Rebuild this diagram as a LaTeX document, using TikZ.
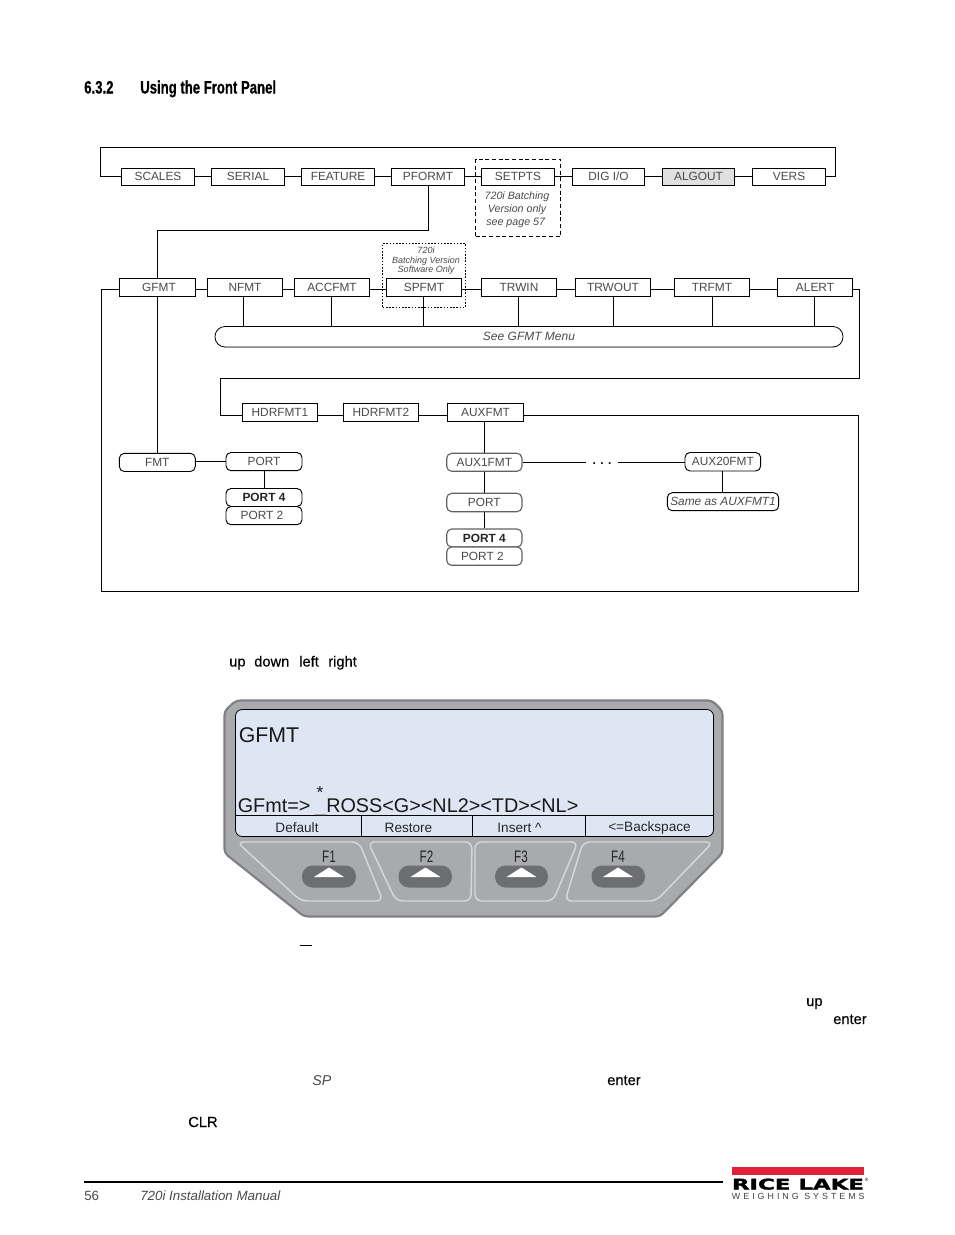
\documentclass[tikz,border=0pt]{standalone}
\usepackage{fontspec}
\usepackage{graphicx}
\setmainfont{Liberation Sans}
\newfontfamily\headfont[FakeStretch=0.73,FakeBold=0.6]{Liberation Sans}
\newfontfamily\keyfont[FakeStretch=0.7]{Liberation Sans}
\newfontfamily\logofont[FakeBold=1.5]{DejaVu Sans}
\newfontfamily\logosub[LetterSpace=34]{Liberation Sans}
\newfontfamily\bodyfont[FakeBold=0.35]{Liberation Sans}
\definecolor{lbl}{HTML}{4A4A4A}
\definecolor{bezel}{HTML}{A8AAAD}
\definecolor{bezeledge}{HTML}{7E8083}
\definecolor{keyline}{HTML}{D6D7D8}
\definecolor{lcd}{HTML}{DFE6F3}
\definecolor{pilldark}{HTML}{6D6E71}
\definecolor{riceRed}{HTML}{E2203A}
\newcommand{\rz}[1]{\raisebox{0.8pt}{#1}}
\newcommand{\bx}[7]{%
  \pgfmathsetmacro\bxcx{(#2+#4)/2}%
  \pgfmathsetmacro\bxcy{(#3+#5)/2}%
  \pgfmathsetmacro\bxw{(#4-#2)*0.75}%
  \pgfmathsetmacro\bxh{(#5-#3)*0.75}%
  \node[#6,minimum width=\bxw pt,minimum height=\bxh pt] (#1) at (\bxcx,\bxcy) {#7};}
\tikzset{
  conn/.style={draw=black,line width=0.7pt},
  sq/.style={draw=black,line width=0.7pt,fill=white,inner sep=0pt,text=lbl,font=\fontsize{8.9}{10}\selectfont},
  rnd/.style={sq,rounded corners=3.75pt},
  rndg/.style={rnd,draw=black!62,line width=0.85pt},
  note/.style={text=lbl,align=center,inner sep=0pt,font=\fontsize{8}{9.75}\selectfont\itshape},
  tinynote/.style={text=lbl,align=center,inner sep=0pt,font=\fontsize{6.75}{7.1}\selectfont\itshape},
  body/.style={anchor=base west,inner sep=0pt,text=black,font=\bodyfont\fontsize{11}{12}\selectfont},
  softkey/.style={inner sep=0pt,text=black!85,font=\fontsize{10.2}{12}\selectfont},
  fkey/.style={inner sep=0pt,text=black!85,font=\keyfont\fontsize{12.5}{13}\selectfont},
  keyoutline/.style={draw=keyline,line width=1.1pt,rounded corners=5pt},
  keypill/.style={fill=pilldark,rounded corners=7.9pt},
  tri/.style={fill=white},
}
\begin{document}
\begin{tikzpicture}[x=0.75pt,y=-0.75pt]
\path[fill=white] (0,0) rectangle (954,1235);
\useasboundingbox (0,0) rectangle (954,1235);

% heading
\node[anchor=base west,inner sep=0pt,font=\headfont\bfseries\fontsize{13.5}{15}\selectfont] (hnum) at (84,93.5) {6.3.2};
\node[anchor=base west,inner sep=0pt,font=\headfont\bfseries\fontsize{13.5}{15}\selectfont] (htitle) at (140,93.5) {Using the Front Panel};

% guide coordinates
\coordinate (loopL) at (100,147.3);
\coordinate (loopR) at (835.3,147.3);
\coordinate (row1) at (0,176.3);
\coordinate (pfbend) at (428.7,230.3);
\coordinate (row2) at (0,289.7);
\coordinate (frameBL) at (101.7,591.3);
\coordinate (frameBR) at (858.5,591.3);
\coordinate (loop2R) at (859.3,378.3);
\coordinate (loop2L) at (220.3,378.3);
\coordinate (hdrrow) at (0,415.3);
\coordinate (auxrow) at (0,462.7);

% dashed groups
\bx{setbox}{475.7}{159.3}{560.7}{236.3}{draw=black,line width=0.7pt,dashed,dash pattern=on 3pt off 2pt,inner sep=0pt}{}
\bx{spbox}{382.7}{243.3}{465.3}{307.3}{draw=black,line width=0.7pt,dash pattern=on 1.2pt off 1.2pt,inner sep=0pt}{}

% top row
\bx{scales}{121.3}{168.3}{194.7}{185.7}{sq}{\rz{SCALES}}
\bx{serial}{211.3}{168.3}{284.7}{185.7}{sq}{\rz{SERIAL}}
\bx{feature}{301.3}{168.3}{374.7}{185.7}{sq}{\rz{FEATURE}}
\bx{pformt}{391.3}{168.3}{464.7}{185.7}{sq}{\rz{PFORMT}}
\bx{setpts}{481.3}{168.3}{554.7}{185.7}{sq}{\rz{SETPTS}}
\bx{digio}{572.3}{168.3}{644.7}{185.7}{sq}{\rz{DIG I/O}}
\bx{algout}{662.3}{168.3}{734.7}{185.7}{sq,fill=black!12}{\rz{ALGOUT}}
\bx{vers}{752.3}{168.3}{825.7}{185.7}{sq}{\rz{VERS}}
\node[note] (setnote) at (517,210) {720i Batching\\Version only\\see page 57\kern2pt};
\node[tinynote] (spnote) at (426,261) {720i\\Batching Version\\Software Only};

% second row
\bx{gfmt}{119.3}{278.3}{195.3}{296.5}{sq}{\kern2.5pt GFMT}
\bx{nfmt}{207.3}{278.3}{282.7}{296.5}{sq}{NFMT}
\bx{accfmt}{294.3}{278.3}{369.7}{296.5}{sq}{ACCFMT}
\bx{spfmt}{386.3}{278.3}{461.7}{296.5}{sq}{SPFMT}
\bx{trwin}{481.3}{278.3}{556.7}{296.5}{sq}{TRWIN}
\bx{trwout}{575.3}{278.3}{650.7}{296.5}{sq}{TRWOUT}
\bx{trfmt}{674.3}{278.3}{749.7}{296.5}{sq}{TRFMT}
\bx{alert}{777.3}{278.3}{852.7}{296.5}{sq}{ALERT}

% see menu
\bx{seemenu}{215}{326.5}{843}{347}{draw=black,line width=0.6pt,rounded corners=7.5pt,inner sep=0pt,text=lbl,font=\fontsize{9}{10}\selectfont\itshape}{See GFMT Menu}
\draw[draw=black!45,line width=0.9pt] ([xshift=7pt]seemenu.south west) -- ([xshift=-7pt]seemenu.south east);

% third row
\bx{hdrone}{242.3}{403}{317.7}{421.7}{sq}{HDRFMT1}
\bx{hdrtwo}{343.3}{403}{418.7}{421.7}{sq}{HDRFMT2}
\bx{auxfmt}{447.3}{403}{523.7}{421.7}{sq}{AUXFMT}

% lower left
\bx{fmt}{119.3}{453.3}{195.3}{471.5}{rnd}{FMT}
\bx{portA}{226}{452.5}{302}{470.7}{rnd}{PORT}
\bx{portAf}{226}{488.5}{302}{506.5}{rnd,text=black!85,font=\bfseries\fontsize{8.9}{10}\selectfont}{PORT 4}
\bx{portAt}{226}{506.5}{302}{524.7}{rnd}{\kern-3pt PORT 2}

% lower middle
\bx{auxone}{446.7}{453.3}{522}{471.3}{rndg}{AUX1FMT}
\bx{portB}{446.7}{493.3}{522}{511.7}{rndg}{PORT}
\bx{portBf}{446.7}{529}{522}{547}{rndg,text=black!85,font=\bfseries\fontsize{8.9}{10}\selectfont}{PORT 4}
\bx{portBt}{446.7}{547}{522}{565.3}{rndg}{\kern-3pt PORT 2}

% lower right
\bx{auxtwenty}{685}{452.5}{760.7}{471}{rnd}{AUX20FMT}
\bx{sameas}{667.3}{492.7}{778.7}{510.7}{rnd,font=\fontsize{8.9}{10}\selectfont\itshape}{\raisebox{-0.7pt}{Same as AUXFMT1}}
\bx{dots}{586.7}{458}{617.3}{470}{inner sep=0pt,text=black,font=\bfseries\fontsize{9}{10}\selectfont}{. . .}

% connectors: top row
\draw[conn] (scales.west |- row1) -| (loopL) -| (loopR) |- (vers.east |- row1);
\draw[conn] (scales.east |- row1) -- (serial.west |- row1);
\draw[conn] (serial.east |- row1) -- (feature.west |- row1);
\draw[conn] (feature.east |- row1) -- (pformt.west |- row1);
\draw[conn] (pformt.east |- row1) -- (setpts.west |- row1);
\draw[conn] (setpts.east |- row1) -- (digio.west |- row1);
\draw[conn] (digio.east |- row1) -- (algout.west |- row1);
\draw[conn] (algout.east |- row1) -- (vers.west |- row1);
\draw[conn] (pformt.south -| pfbend) -- (pfbend) -| (gfmt.north);

% connectors: second row
\draw[conn] (gfmt.east |- row2) -- (nfmt.west |- row2);
\draw[conn] (nfmt.east |- row2) -- (accfmt.west |- row2);
\draw[conn] (accfmt.east |- row2) -- (spfmt.west |- row2);
\draw[conn] (spfmt.east |- row2) -- (trwin.west |- row2);
\draw[conn] (trwin.east |- row2) -- (trwout.west |- row2);
\draw[conn] (trwout.east |- row2) -- (trfmt.west |- row2);
\draw[conn] (trfmt.east |- row2) -- (alert.west |- row2);
\draw[conn] ([xshift=-1.2pt]nfmt.south) -- ([xshift=-1.2pt]nfmt.south |- seemenu.north);
\draw[conn] ([xshift=-0.5pt]accfmt.south) -- ([xshift=-0.5pt]accfmt.south |- seemenu.north);
\draw[conn] ([xshift=-0.5pt]spfmt.south) -- ([xshift=-0.5pt]spfmt.south |- seemenu.north);
\draw[conn] ([xshift=-0.5pt]trwin.south) -- ([xshift=-0.5pt]trwin.south |- seemenu.north);
\draw[conn] (trwout.south) -- (trwout.south |- seemenu.north);
\draw[conn] (trfmt.south) -- (trfmt.south |- seemenu.north);
\draw[conn] ([xshift=-0.5pt]alert.south) -- ([xshift=-0.5pt]alert.south |- seemenu.north);

% connectors: frames
\draw[conn] (gfmt.west |- row2) -| (frameBL) -| (frameBR) |- (auxfmt.east |- hdrrow);
\draw[conn] (alert.east |- row2) -| (loop2R) -| (loop2L) |- (hdrone.west |- hdrrow);
\draw[conn] (hdrone.east |- hdrrow) -- (hdrtwo.west |- hdrrow);
\draw[conn] (hdrtwo.east |- hdrrow) -- (auxfmt.west |- hdrrow);

% connectors: lower
\draw[conn] (gfmt.south) -- (fmt.north);
\draw[conn] (fmt.east |- portA.west) -- (portA.west);
\draw[conn] (portA.south) -- (portAf.north);
\draw[conn] (auxone.north |- auxfmt.south) -- (auxone.north);
\draw[conn] (auxone.south) -- (portB.north);
\draw[conn] (portB.south) -- (portBf.north);
\draw[conn] (auxone.east |- auxrow) -- (dots.west |- auxrow);
\draw[conn] (dots.east |- auxrow) -- (auxtwenty.west |- auxrow);
\draw[conn] (auxtwenty.south) -- (auxtwenty.south |- sameas.north);

% body fragments
\node[body] (w1) at (229,666.5) {up};
\node[body] (w2) at (254,666.5) {down};
\node[body] (w3) at (299,666.5) {left};
\node[body] (w4) at (328,666.5) {right};

% bezel
\path[fill=bezel,draw=bezeledge,line width=1.6pt,rounded corners=3pt]
  (236,700.5) -- (712,700.5) -- (722.5,711) -- (722.5,853) -- (660,916.5) -- (304,916.5) -- (224.5,853) -- (224.5,711) -- cycle;
\path[fill=lcd,draw=black,line width=0.6pt,rounded corners=5pt]
  (235.5,709.5) rectangle (713.5,836.5);
\draw[black,line width=0.6pt] (235.5,815) -- (713.5,815);
\draw[black,line width=0.6pt] (361,815) -- (361,836.5);
\draw[black,line width=0.6pt] (472.5,815) -- (472.5,836.5);
\draw[black,line width=0.6pt] (585,815) -- (585,836.5);

% LCD text
\node[anchor=base west,inner sep=0pt,text=black!90,font=\fontsize{16}{18}\selectfont] (lcdtitle) at (238.5,742) {GFMT};
\node[anchor=base west,inner sep=0pt,text=black!90,font=\fontsize{14.85}{18}\selectfont] (lcdline) at (237.5,812.3) {GFmt=>};
\node[anchor=base west,inner sep=0pt,text=black!90,font=\fontsize{14.85}{18}\selectfont] (lcdval) at (315,812.3) {\_ROSS<G><NL2><TD><NL>};
\node[anchor=base,inner sep=0pt,text=black!90,font=\fontsize{13}{14}\selectfont] (lcdstar) at (320,798.5) {*};
\node[softkey] (skA) at (297,827.5) {Default};
\node[softkey] (skB) at (408.5,827.8) {Restore};
\node[softkey] (skC) at (519.5,827.6) {Insert \^{}};
\node[softkey] (skD) at (649.5,827.8) {<=Backspace};

% function keys
\draw[keyoutline] (237,842) -- (359,842) -- (383,901) -- (301,901) -- cycle;
\draw[keyoutline] (368,842) -- (472,842) -- (471,901) -- (396,901) -- cycle;
\draw[keyoutline] (475,842) -- (578,842) -- (553,901) -- (475,901) -- cycle;
\draw[keyoutline] (583,842) -- (713,842) -- (656,901) -- (565,901) -- cycle;
\path[keypill] (302,865.5) rectangle (356,887.5);
\path[keypill] (398.5,865.5) rectangle (452,887.5);
\path[keypill] (495,865.5) rectangle (548,887.5);
\path[keypill] (591.5,865.5) rectangle (645,887.5);
\fill[tri] (329,867.5) -- (344,877) -- (314,877) -- cycle;
\fill[tri] (425.5,867.5) -- (440.5,877) -- (410.5,877) -- cycle;
\fill[tri] (521.5,867.5) -- (536.5,877) -- (506.5,877) -- cycle;
\fill[tri] (618,867.5) -- (633,877) -- (603,877) -- cycle;
\node[fkey] (fa) at (329,857) {F1};
\node[fkey] (fb) at (426.5,857) {F2};
\node[fkey] (fc) at (521,857) {F3};
\node[fkey] (fd) at (618,857) {F4};

% lower text fragments
\draw[black,line width=0.75pt] (300,945) -- (312,945);
\node[body] (t1) at (806,1006) {up};
\node[body] (t2) at (833,1024) {enter};
\node[body,text=lbl,font=\fontsize{10.7}{12}\selectfont\itshape] (t3) at (312,1085) {SP};
\node[body] (t4) at (607,1085) {enter};
\node[body] (t5) at (188,1127) {CLR};

% footer
\draw[black,line width=1.3pt] (84,1182) -- (723,1182);
\node[anchor=base west,inner sep=0pt,text=lbl,font=\fontsize{10}{12}\selectfont] (pg) at (84,1200) {56};
\node[anchor=base west,inner sep=0pt,text=lbl,font=\fontsize{10}{12}\selectfont\itshape] (man) at (140,1200) {720i Installation Manual};

% logo
\fill[riceRed] (731.7,1167.3) rectangle (864,1175);
\node[anchor=south west,inner sep=0pt] (logoA) at (731.7,1190) {\resizebox{99pt}{8.2pt}{\logofont\bfseries RICE LAKE}};
\node[anchor=base west,inner sep=0pt,text=black!75] (logoB) at (731.7,1199) {\resizebox{99.5pt}{!}{\logosub\fontsize{6}{7}\selectfont WEIGHING SYSTEMS}};
\node[inner sep=0pt,font=\fontsize{3.5}{4}\selectfont] (logoR) at (866.5,1179.5) {®};
\end{tikzpicture}
\end{document}
